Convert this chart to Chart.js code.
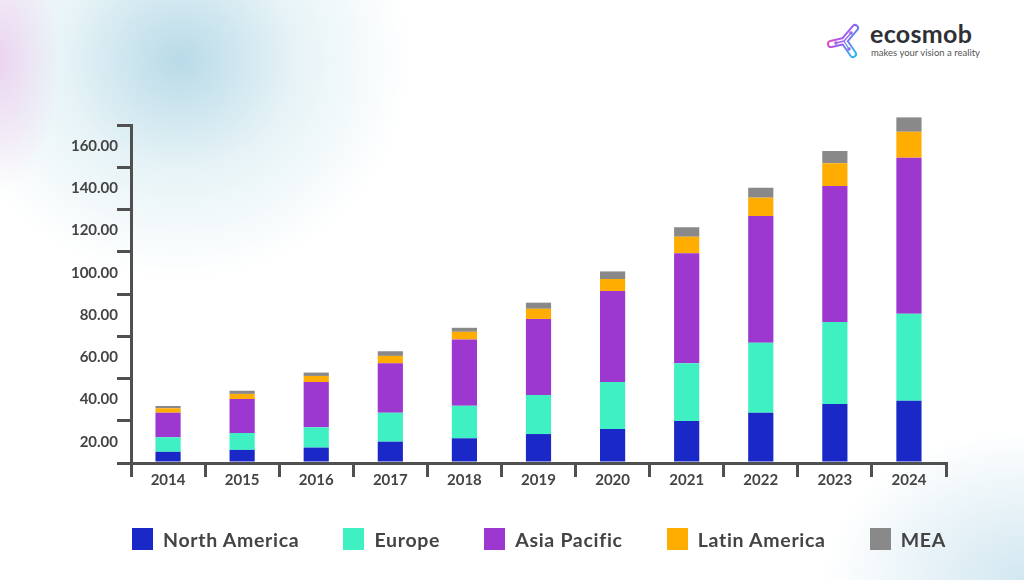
<!DOCTYPE html>
<html>
<head>
<meta charset="utf-8">
<script src="https://cdn.jsdelivr.net/npm/chart.js@4.4.0/dist/chart.umd.min.js"></script>
<style>
  html, body { margin: 0; padding: 0; }
  body {
    width: 1024px; height: 580px; overflow: hidden; position: relative;
    background:
      radial-gradient(ellipse 60px 130px at 0px 60px, rgba(232,200,236,0.75) 0, rgba(232,200,236,0) 100%),
      radial-gradient(ellipse 230px 220px at 180px 60px, rgba(172,212,228,0.85) 0, rgba(200,228,236,0.45) 50%, rgba(255,255,255,0) 100%),
      radial-gradient(ellipse 200px 150px at 1024px 580px, rgba(185,218,232,0.65) 0, rgba(255,255,255,0) 100%),
      #ffffff;
    font-family: Lato, "Open Sans", sans-serif;
  }
  #wrap { position: absolute; left: 0; top: 0; width: 1024px; height: 580px; }
  .logo { position: absolute; left: 826px; top: 21px; }
  .logo svg { position: absolute; left: 0; top: 0; }
  .logo .name { position: absolute; left: 44px; top: -3px; font: 700 25px Lato, sans-serif; color: #2f2f36; letter-spacing: 0.3px; line-height: 30px; }
  .logo .tag { position: absolute; left: 45px; top: 26px; font: 400 9.5px Lato, sans-serif; color: #555; white-space: nowrap; line-height: 11px; }
  #legend { position: absolute; left: 132px; top: 528px; width: 814px; display: flex; justify-content: space-between; }
  #legend .item { display: flex; align-items: center; height: 22px; }
  #legend .box { width: 21px; height: 22px; margin-right: 10px; }
  #legend .txt { font: 700 19.5px Lato, sans-serif; color: #444; letter-spacing: 0.7px; white-space: nowrap; }
</style>
</head>
<body>
<div class="logo">
  <svg width="40" height="40" viewBox="0 0 40 40">
    <defs>
      <linearGradient id="lg" x1="0" y1="0.2" x2="1" y2="0.9">
        <stop offset="0" stop-color="#ee4fb8"/>
        <stop offset="0.45" stop-color="#9a5cf2"/>
        <stop offset="1" stop-color="#2fb6f2"/>
      </linearGradient>
    </defs>
    <g fill="none" stroke="url(#lg)" stroke-linecap="round" stroke-linejoin="round">
      <path d="M18 20 L29 7 M18 20 L5 23 M18 20 L27 33" stroke-width="8"/>
      <path d="M18 20 L29 7 M18 20 L5 23 M18 20 L27 33" stroke-width="4" stroke="#ffffff"/>
      <path d="M18 20 L25 12 M18 20 L10 22 M18 20 L23 28" stroke-width="1.3"/>
    </g>
    <g fill="url(#lg)">
      <circle cx="25" cy="12" r="1.8"/>
      <circle cx="10" cy="22" r="1.8"/>
      <circle cx="23" cy="28" r="1.8"/>
    </g>
  </svg>
  <div class="name">ecosmob</div>
  <div class="tag">makes your vision a reality</div>
</div>
<div id="wrap"><canvas id="chart" width="1024" height="580"></canvas></div>
<div id="legend"></div>
<script>
const years = ['2014','2015','2016','2017','2018','2019','2020','2021','2022','2023','2024'];
const northAmerica = [5.3, 6.2, 7.3, 10.1, 11.7, 13.7, 16.1, 19.9, 23.8, 27.9, 29.5];
const europe       = [6.9, 8.0, 9.6, 13.7, 15.4, 18.5, 22.2, 27.3, 33.1, 38.8, 41.2];
const asiaPacific  = [11.6, 16.1, 21.4, 23.4, 31.4, 36.0, 43.1, 52.1, 60.0, 64.4, 73.8];
const latinAmerica = [2.1, 2.4, 2.9, 3.5, 3.6, 4.8, 5.7, 7.8, 8.7, 10.8, 12.3];
const mea          = [1.1, 1.5, 1.6, 2.2, 1.9, 2.9, 3.6, 4.5, 4.7, 5.8, 6.8];

const seriesNames = ['North America', 'Europe', 'Asia Pacific', 'Latin America', 'MEA'];
const seriesColors = ['#1a28c8', '#3ef0c2', '#9c37cf', '#ffad00', '#898989'];
const seriesData = [northAmerica, europe, asiaPacific, latinAmerica, mea];

const axisColor = '#505050';
const textColor = '#444444';

// legend built from the series lists
const legend = document.getElementById('legend');
seriesNames.forEach((name, i) => {
  const item = document.createElement('div');
  item.className = 'item';
  item.innerHTML = '<span class="box" style="background:' + seriesColors[i] + '"></span><span class="txt">' + name + '</span>';
  legend.appendChild(item);
});

const ctx = document.getElementById('chart');
new Chart(ctx, {
  type: 'bar',
  data: {
    labels: years,
    datasets: seriesNames.map((name, i) => ({
      label: name,
      data: seriesData[i],
      backgroundColor: seriesColors[i],
      borderWidth: 0,
      barPercentage: 0.34,
      categoryPercentage: 1,
      clip: false
    }))
  },
  options: {
    responsive: false,
    animation: false,
    devicePixelRatio: 1,
    layout: { padding: { left: 0, right: 78, top: 125, bottom: 87 } },
    plugins: {
      tooltip: { enabled: false },
      legend: { display: false }
    },
    scales: {
      x: {
        stacked: true,
        afterFit: (scale) => { scale.height = 30; },
        grid: { display: true, drawOnChartArea: false, drawTicks: true, tickLength: 14, color: axisColor, lineWidth: 3, offset: true },
        border: { display: true, color: axisColor, width: 3 },
        ticks: { color: textColor, padding: -6, font: { family: 'Lato', size: 15, weight: '700' }, maxRotation: 0 }
      },
      y: {
        stacked: true,
        min: 0, max: 160,
        afterFit: (scale) => { scale.width = 131; },
        grid: { display: true, drawOnChartArea: false, drawTicks: true, tickLength: 14, color: axisColor, lineWidth: 3 },
        border: { display: true, color: axisColor, width: 3 },
        ticks: {
          stepSize: 20,
          labelOffset: 21,
          padding: -1,
          color: textColor,
          font: { family: 'Lato', size: 15, weight: '700' },
          callback: (v) => v === 0 ? '' : v.toFixed(2)
        }
      }
    }
  }
});
</script>
</body>
</html>
